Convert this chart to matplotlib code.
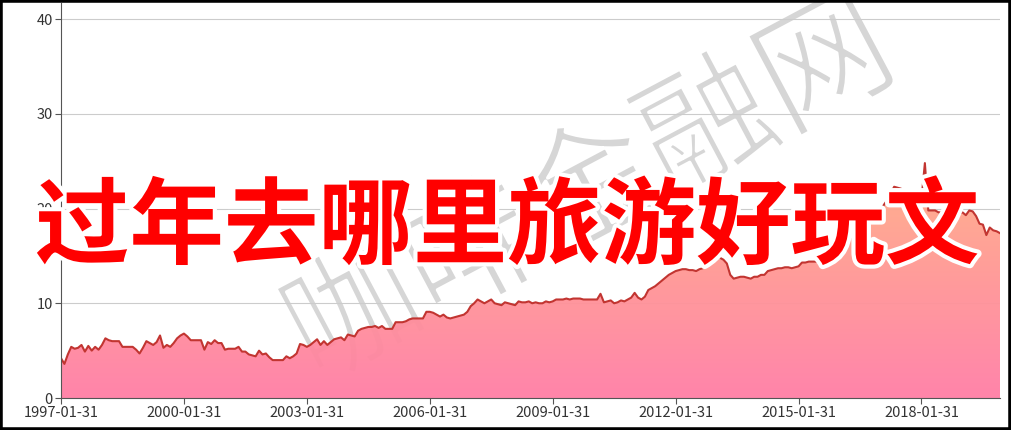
import matplotlib.pyplot as plt
import matplotlib.patheffects as pe
import numpy as np
from matplotlib.colors import LinearSegmentedColormap
from matplotlib.patches import Rectangle

plt.rcParams['font.family'] = ['Noto Sans CJK SC', 'DejaVu Sans']

# 月度数据 1997-01 ~ 2019-12
values = [
    4.2, 3.6, 4.6, 5.4, 5.2, 5.3, 5.6, 4.9, 5.5, 5.0, 5.4, 5.1,          # 1997
    5.6, 6.3, 6.1, 6.0, 6.0, 6.0, 5.4, 5.4, 5.4, 5.4, 5.1, 4.7,          # 1998
    5.3, 6.0, 5.8, 5.6, 5.9, 6.6, 5.3, 5.6, 5.4, 5.8, 6.3, 6.6,          # 1999
    6.8, 6.5, 6.1, 6.1, 6.1, 6.1, 5.1, 5.9, 5.7, 6.1, 5.8, 5.8,          # 2000
    5.1, 5.2, 5.2, 5.2, 5.4, 4.9, 4.9, 4.6, 4.5, 4.4, 5.0, 4.6,          # 2001
    4.7, 4.3, 4.0, 4.0, 4.0, 4.0, 4.4, 4.2, 4.4, 4.7, 5.7, 5.6,          # 2002
    5.4, 5.6, 5.9, 6.2, 5.6, 6.0, 5.6, 5.9, 6.2, 6.3, 6.4, 6.1,          # 2003
    6.7, 6.6, 6.5, 7.1, 7.3, 7.4, 7.5, 7.5, 7.6, 7.4, 7.6, 7.3,          # 2004
    7.3, 7.3, 8.0, 8.0, 8.0, 8.1, 8.3, 8.4, 8.4, 8.4, 8.4, 9.1,          # 2005
    9.1, 9.0, 8.8, 8.6, 8.8, 8.5, 8.4, 8.5, 8.6, 8.7, 8.8, 9.1,          # 2006
    9.7, 10.0, 10.4, 10.2, 10.0, 10.2, 10.4, 10.0, 9.9, 9.8, 10.1, 10.0,  # 2007
    9.9, 9.8, 10.2, 10.1, 10.1, 10.2, 10.0, 10.1, 10.0, 10.0, 10.2, 10.1,  # 2008
    10.2, 10.4, 10.4, 10.4, 10.5, 10.4, 10.5, 10.5, 10.5, 10.4, 10.4, 10.4,  # 2009
    10.4, 10.4, 11.0, 10.1, 10.2, 10.3, 10.0, 10.1, 10.3, 10.2, 10.4, 10.6,  # 2010
    11.1, 10.6, 10.4, 10.7, 11.4, 11.6, 11.8, 12.1, 12.4, 12.7, 13.0, 13.2,  # 2011
    13.4, 13.5, 13.6, 13.6, 13.5, 13.5, 13.4, 13.6, 13.7, 14.4, 14.6, 14.8,  # 2012
    14.9, 14.8, 14.6, 14.2, 13.0, 12.6, 12.7, 12.8, 12.8, 12.7, 12.6, 12.8,  # 2013
    12.8, 13.0, 13.0, 13.4, 13.5, 13.6, 13.7, 13.7, 13.8, 13.8, 13.7, 13.8,  # 2014
    13.9, 14.3, 14.3, 14.4, 14.4, 14.4, 14.3, 14.8, 15.2, 15.8, 16.0, 16.7,  # 2015
    16.9, 16.6, 16.4, 16.8, 17.2, 17.5, 17.8, 18.0, 18.3, 18.7, 19.0, 19.4,  # 2016
    19.7, 20.4, 20.9, 21.6, 22.3, 22.2, 22.1, 21.1, 21.0, 20.9, 21.1, 20.9,  # 2017
    21.0, 24.8, 19.8, 19.8, 19.8, 19.6, 19.6, 19.7, 19.6, 19.8, 19.7, 19.5,  # 2018
    19.6, 19.3, 19.8, 19.7, 19.2, 18.4, 18.3, 17.2, 18.0, 17.7, 17.6, 17.4,  # 2019
]
tick_labels = ['1997-01-31', '2000-01-31', '2003-01-31', '2006-01-31',
               '2009-01-31', '2012-01-31', '2015-01-31', '2018-01-31']
y_ticks = [0, 10, 20, 30, 40]
title_text = '过年去哪里旅游好玩文'
watermark_text = '咖啡金融网'

x = np.arange(len(values))
y = np.array(values)

fig = plt.figure(figsize=(10.11, 4.30), dpi=100)
ax = fig.add_axes([61 / 1011, 32 / 430, 939 / 1011, 395 / 430])
ax.set_zorder(1)
ax.set_facecolor('none')

# 水印（在图形下层），白色描边让笔画变细
fig.text(0.585, 0.55, watermark_text, fontsize=96, color='#d6d6d6',
         rotation=28, ha='center', va='center', zorder=0,
         path_effects=[pe.Normal(), pe.Stroke(linewidth=2.5, foreground='white')])

# 渐变填充
cmap = LinearSegmentedColormap.from_list('g', ['#ff7ea6', '#ffae86'])
grad = np.linspace(0, 1, 256).reshape(-1, 1)
img = ax.imshow(grad, extent=[x[0], x[-1], 0, y.max()], origin='lower',
                aspect='auto', cmap=cmap, zorder=2, alpha=0.95)
poly = ax.fill_between(x, y, 0, color='none', lw=0)
img.set_clip_path(poly.get_paths()[0], transform=ax.transData)
ax.plot(x, y, color='#c23531', lw=1.5, zorder=3)

ax.set_xlim(x[0], x[-1])
ax.set_ylim(0, 41.7)
ax.set_xticks(x[::36])
ax.set_xticklabels(tick_labels)
ax.set_yticks(y_ticks)
ax.yaxis.grid(True, color='#cccccc', lw=0.8, zorder=1)
ax.set_axisbelow(True)
for s in ['top', 'right']:
    ax.spines[s].set_visible(False)
for s in ['left', 'bottom']:
    ax.spines[s].set_color('#555555')
    ax.spines[s].set_zorder(4)
ax.tick_params(colors='#555555', labelcolor='#333333', labelsize=10.5,
               length=4, width=0.8, pad=2)

# 大标题
fig.text(0.502, 0.468, title_text, fontsize=68, fontweight='bold',
         color='#ff0000', ha='center', va='center', zorder=10,
         path_effects=[pe.withStroke(linewidth=6, foreground='white')])

# 黑色边框
fig.patches.append(Rectangle((0, 0), 1, 1, transform=fig.transFigure,
                             fill=False, edgecolor='black', lw=4, zorder=20))

plt.savefig('out.png', dpi=100)
